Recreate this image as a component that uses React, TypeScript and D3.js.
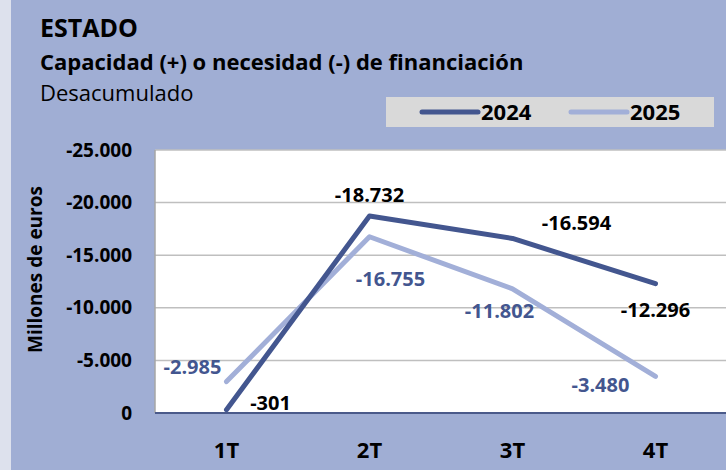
import React from 'react';
import * as d3 from 'd3';

const quarters = ['1T', '2T', '3T', '4T'];
const series2024 = [-301, -18732, -16594, -12296];
const series2025 = [-2985, -16755, -11802, -3480];
const yTicks = [0, -5000, -10000, -15000, -20000, -25000];

const W = 726;
const H = 470;
const plot = { left: 155, right: 727, top: 150, bottom: 413 };
const FONT = '"Open Sans", sans-serif';
const dark = '#43568f';
const light = '#a2afd8';

// label placement relative to each point (px)
const off2024 = [[44, -7], [0, -21], [64, -15], [0, 26]];
const off2025 = [[-34, -15], [21, 42], [-13, 22], [-55, 9]];

// thousands with a dot, plain hyphen for the sign
const fmt = (v: number) => d3.format(',')(v).replace(/,/g, '.').replace('\u2212', '-');

export default function App() {
  const x = d3.scaleBand().domain(quarters).range([plot.left, plot.right]);
  const y = d3.scaleLinear().domain([0, -25000]).range([plot.bottom, plot.top]);
  const cx = (q: string) => (x(q) as number) + x.bandwidth() / 2;
  const line = d3.line<number>().x((_, i) => cx(quarters[i])).y(d => y(d));

  const series = [
    { name: '2024', values: series2024, color: dark, labelColor: '#000', offs: off2024 },
    { name: '2025', values: series2025, color: light, labelColor: dark, offs: off2025 },
  ];

  return (
    <svg width={W} height={H} style={{ position: 'absolute', left: 0, top: 0 }} fontFamily={FONT}>
      <rect width={W} height={H} fill="#a0aed4" />
      <rect width={11} height={H} fill="#dde1ed" />

      <text x={40} y={37} fontSize={25} fontWeight="bold" fill="#000">ESTADO</text>
      <text x={40} y={70} fontSize={22} fontWeight="bold" fill="#000">
        Capacidad (+) o necesidad (-) de financiación
      </text>
      <text x={40} y={101} fontSize={22} fill="#000">Desacumulado</text>

      {/* legend */}
      <rect x={386} y={97} width={328} height={30} fill="#d9d9d9" />
      {series.map((s, i) => (
        <g key={s.name} transform={`translate(${422 + i * 149},112)`}>
          <line x1={0} x2={56} y1={0} y2={0} stroke={s.color} strokeWidth={5} strokeLinecap="round" />
          <text x={59} y={8} fontSize={22} fontWeight="bold" fill="#000">{s.name}</text>
        </g>
      ))}

      {/* plot area */}
      <rect x={plot.left} y={plot.top} width={plot.right - plot.left} height={plot.bottom - plot.top} fill="#fff" />
      {yTicks.map(t => (
        <g key={t}>
          {t !== 0 && (
            <line x1={plot.left} x2={plot.right} y1={y(t)} y2={y(t)} stroke="#bfbfbf" strokeWidth={1.5} />
          )}
          <text x={132} y={y(t)} dy="0.35em" textAnchor="end" fontSize={19} fontWeight="bold" fill="#000">
            {fmt(t)}
          </text>
        </g>
      ))}
      <line x1={plot.left} x2={plot.left} y1={plot.top} y2={plot.bottom} stroke="#a6a6a6" strokeWidth={1.5} />
      <line x1={plot.left} x2={plot.right} y1={plot.bottom} y2={plot.bottom} stroke="#4a5a8a" strokeWidth={2} />

      <text
        transform={`translate(42,${(plot.top + plot.bottom) / 2 - 12}) rotate(-90)`}
        textAnchor="middle"
        fontSize={19}
        fontWeight="bold"
        fill="#000"
      >
        Millones de euros
      </text>

      {quarters.map(q => (
        <text key={q} x={cx(q)} y={450} dy="0.35em" textAnchor="middle" fontSize={22} fontWeight="bold" fill="#000">
          {q}
        </text>
      ))}

      {[...series].reverse().map(s => (
        <path key={s.name} d={line(s.values) as string} fill="none" stroke={s.color} strokeWidth={5} strokeLinecap="round" strokeLinejoin="round" />
      ))}

      {series.map(s =>
        s.values.map((v, i) => (
          <text
            key={s.name + i}
            x={cx(quarters[i]) + s.offs[i][0]}
            y={y(v) + s.offs[i][1]}
            dy="0.35em"
            textAnchor="middle"
            fontSize={20}
            fontWeight="bold"
            fill={s.labelColor}
          >
            {fmt(v)}
          </text>
        ))
      )}
    </svg>
  );
}
